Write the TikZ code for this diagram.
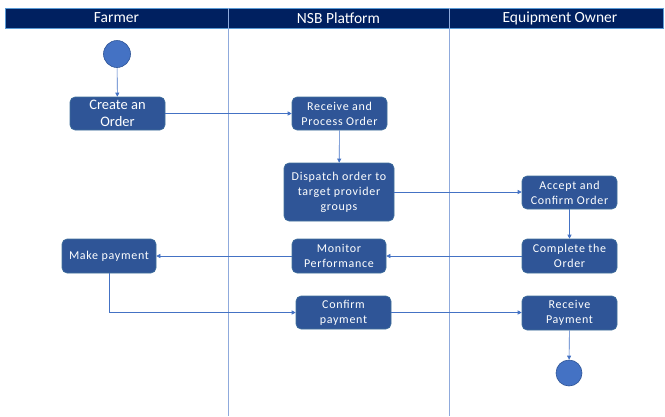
\documentclass[tikz,border=0pt]{standalone}
\usepackage{fontspec}
\setmainfont{Carlito}
\usetikzlibrary{arrows.meta}
\definecolor{band}{HTML}{002060}
\definecolor{bandline}{HTML}{5B9BD5}
\definecolor{boxfill}{HTML}{2F5597}
\definecolor{boxline}{HTML}{41719C}
\definecolor{conn}{HTML}{4472C4}
\definecolor{lane}{HTML}{8FAADC}
\tikzset{
  act/.style={draw=boxline, line width=0.6pt, fill=boxfill, rounded corners=5pt, text=white,
    align=center, inner sep=1pt, font=\fontsize{12}{15}\selectfont\addfontfeatures{LetterSpace=6}},
  bigact/.style={act, font=\fontsize{14.5}{17}\selectfont},
  dot/.style={circle, draw=boxfill, line width=0.6pt, fill=conn, inner sep=0pt},
  flow/.style={draw=conn, line width=0.6pt, -{Triangle[width=4pt,length=4pt]}},
  lanetitle/.style={text=white, font=\fontsize{15.5}{17}\selectfont},
}
\begin{document}
\begin{tikzpicture}[x=1pt,y=-1pt]
\useasboundingbox (0,0) rectangle (665,416);
% header band
\fill[band] (5,8) rectangle (663,28);
\draw[bandline, line width=0.8pt] (5,8) rectangle (663,28);
\draw[lane, line width=0.8pt] (228,8) -- (228,416);
\draw[lane, line width=0.8pt] (449,8) -- (449,416);
\node[lanetitle] (t1) at (116.5,18) {Farmer};
\node[lanetitle] (t2) at (338.5,18) {NSB Platform};
\node[lanetitle] (t3) at (560,18) {Equipment Owner};
% nodes
\node[dot, minimum size=27pt] (start) at (117,54) {};
\node[bigact, minimum width=95pt, minimum height=33pt] (create) at (117.5,113.5) {Create an\\Order};
\node[act, minimum width=95pt, minimum height=33pt] (recv) at (339.5,113.5) {Receive and\\Process Order};
\node[act, minimum width=110pt, minimum height=58pt] (dispatch) at (339,192) {Dispatch order to\\target provider\\groups};
\node[act, minimum width=95pt, minimum height=33pt] (accept) at (569.5,192.5) {Accept and\\Confirm Order};
\node[act, minimum width=95pt, minimum height=34pt] (complete) at (569.5,256) {Complete the\\Order};
\node[act, minimum width=94pt, minimum height=34pt] (monitor) at (339,256) {Monitor\\Performance};
\node[act, minimum width=94pt, minimum height=34pt] (make) at (109,256) {Make payment};
\node[act, minimum width=95pt, minimum height=33pt] (confirm) at (343.5,312.5) {Confirm\\payment};
\node[act, minimum width=95pt, minimum height=34pt] (recvpay) at (569.5,313) {Receive\\Payment};
\node[dot, minimum size=26pt] (end) at (569,373) {};
% connectors
\draw[flow] (start) -- (create);
\draw[flow] (create) -- (recv);
\draw[flow] (recv) -- (dispatch);
\draw[flow] (dispatch) -- (dispatch.east -| accept.west);
\draw[flow] (accept) -- (complete);
\draw[flow] (complete) -- (monitor);
\draw[flow] (monitor) -- (make);
\draw[flow] (make.south) |- (confirm.west);
\draw[flow] (confirm.east) -- (confirm.east -| recvpay.west);
\draw[flow] (recvpay) -- (end);
\end{tikzpicture}
\end{document}
